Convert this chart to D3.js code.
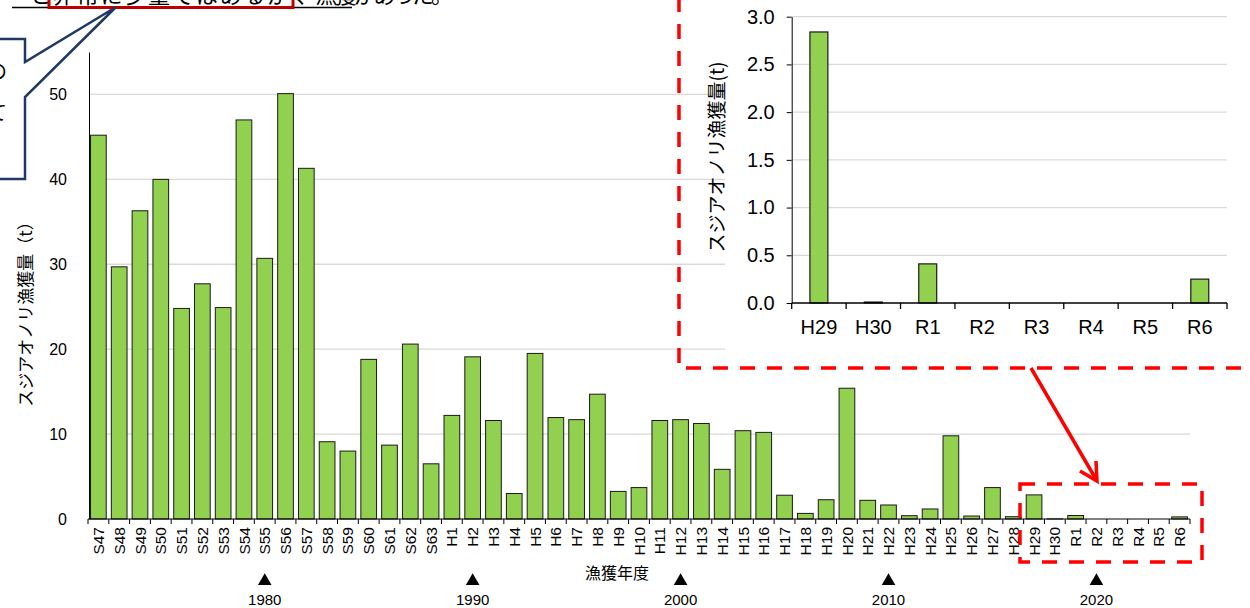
<!DOCTYPE html>
<html>
<head>
<meta charset="utf-8">
<script src="https://cdn.jsdelivr.net/npm/d3@7"></script>
<style>
  body { margin: 0; background: #fff; }
  svg { display: block; }
  .jp { font-family: "Noto Sans CJK JP", sans-serif; }
  .num { font-family: "Liberation Sans", Arial, sans-serif; }
</style>
</head>
<body>
<div id="chart"></div>
<script>
// fishing years (Showa / Heisei / Reiwa)
const years = [
  "S47","S48","S49","S50","S51","S52","S53","S54","S55","S56","S57","S58","S59","S60","S61","S62","S63",
  "H1","H2","H3","H4","H5","H6","H7","H8","H9","H10","H11","H12","H13","H14","H15","H16","H17","H18","H19","H20",
  "H21","H22","H23","H24","H25","H26","H27","H28","H29","H30",
  "R1","R2","R3","R4","R5","R6"
];
// catch in tonnes
const catchT = [
  45.2, 29.7, 36.3, 40.0, 24.8, 27.7, 24.9, 47.0, 30.7, 50.1, 41.3, 9.1, 8.0, 18.8, 8.7, 20.6, 6.5,
  12.2, 19.1, 11.6, 3.0, 19.5, 11.95, 11.7, 14.7, 3.25, 3.7, 11.6, 11.7, 11.25, 5.85, 10.4, 10.2, 2.8, 0.66, 2.27, 15.4,
  2.2, 1.65, 0.39, 1.18, 9.8, 0.35, 3.7, 0.27, 2.84, 0.01,
  0.41, 0, 0, 0, 0, 0.25
];
const mainTicks = [0, 10, 20, 30, 40, 50];

// zoomed part
const insetYears = ["H29","H30","R1","R2","R3","R4","R5","R6"];
const insetCatch = [2.84, 0.01, 0.41, 0, 0, 0, 0, 0.25];
const insetTicks = [0, 0.5, 1.0, 1.5, 2.0, 2.5, 3.0];

// western year markers under the axis
const markerYears = ["1980","1990","2000","2010","2020"];
const markerAt = ["S55","H2","H12","H22","R2"];

const yLabel = "スジアオノリ漁獲量（t）";
const yLabelInset = "スジアオノリ漁獲量(t)";
const xLabel = "漁獲年度";

const width = 1250, height = 608;
const barFill = "#92d050", gridCol = "#d9d9d9";

const svg = d3.select("#chart").append("svg")
  .attr("width", width).attr("height", height);

/* ---------- main chart ---------- */
const x = d3.scaleBand().domain(years).range([88, 1190])
  .paddingInner(0.245).paddingOuter(0.1225);
const y = d3.scaleLinear().domain([0, 55]).range([519, 52]);

svg.append("g").selectAll("line")
  .data(mainTicks.filter(d => d > 0))
  .join("line")
  .attr("x1", 89).attr("x2", 1190)
  .attr("y1", d => y(d)).attr("y2", d => y(d))
  .attr("stroke", gridCol).attr("stroke-width", 1.3);

svg.append("g").selectAll("rect")
  .data(years.map((k, i) => ({ k, v: catchT[i] })).filter(d => d.v > 0))
  .join("rect")
  .attr("x", d => x(d.k))
  .attr("y", d => y(d.v))
  .attr("width", x.bandwidth())
  .attr("height", d => y(0) - y(d.v))
  .attr("fill", barFill)
  .attr("stroke", "#1a1a1a").attr("stroke-width", 1);

// y axis
const yAxis = svg.append("g")
  .attr("transform", "translate(89,0)")
  .call(d3.axisLeft(y).tickValues(mainTicks).tickSize(0).tickPadding(22).tickSizeOuter(0));
yAxis.select(".domain").attr("stroke", "#000");
yAxis.selectAll("text").attr("class", "num").style("font-size", "16px").attr("fill", "#000");

// x axis with rotated labels
const xAxis = svg.append("g")
  .attr("transform", "translate(0,519)")
  .call(d3.axisBottom(x).tickSize(0).tickSizeOuter(0));
xAxis.select(".domain").attr("stroke", "#000").attr("d", "M88,0H1190");
xAxis.selectAll("text")
  .attr("class", "num")
  .style("font-size", "15.5px")
  .attr("fill", "#000")
  .attr("y", 0).attr("dy", "0.36em").attr("x", -8)
  .attr("transform", "rotate(-90)")
  .style("text-anchor", "end");

const bounds = years.map(k => x(k) - x.step() * x.paddingInner() / 2).concat([1190]);
xAxis.append("g").selectAll("line").data(bounds).join("line")
  .attr("x1", d => d).attr("x2", d => d).attr("y1", 0).attr("y2", 5)
  .attr("stroke", "#000");

svg.append("text").attr("class", "jp")
  .attr("transform", "translate(24,310) rotate(-90)")
  .attr("text-anchor", "middle").attr("dominant-baseline", "central")
  .style("font-size", "17px").attr("fill", "#000").text(yLabel);

svg.append("text").attr("class", "jp")
  .attr("x", 617).attr("y", 572)
  .attr("text-anchor", "middle").attr("dominant-baseline", "central")
  .style("font-size", "16px").text(xLabel);

const marks = svg.append("g");
markerYears.forEach((yr, i) => {
  const cx = x(markerAt[i]) + x.bandwidth() / 2;
  marks.append("path")
    .attr("d", d3.symbol(d3.symbolTriangle, 80)())
    .attr("transform", `translate(${cx},581)`)
    .attr("fill", "#000");
  marks.append("text").attr("class", "num")
    .attr("x", cx).attr("y", 605)
    .attr("text-anchor", "middle")
    .style("font-size", "15px").text(yr);
});

// dashed box around the last years + arrow
svg.append("rect")
  .attr("x", 1020).attr("y", 484).attr("width", 182).attr("height", 78)
  .attr("fill", "none").attr("stroke", "#ff0000").attr("stroke-width", 3.5)
  .attr("stroke-dasharray", "15,12");

svg.append("path")
  .attr("d", "M1031,368L1097,481M1080,471L1097,481L1096,461")
  .attr("fill", "none").attr("stroke", "#ff0000").attr("stroke-width", 3.5)
  .attr("stroke-linejoin", "miter");

/* ---------- inset chart ---------- */
svg.append("rect").attr("x", 725).attr("y", 0).attr("width", 525).attr("height", 360)
  .attr("fill", "#fff");

const xi = d3.scaleBand().domain(insetYears).range([791.7, 1227])
  .paddingInner(0.67).paddingOuter(0.335);
const yi = d3.scaleLinear().domain([0, 3]).range([303, 16.7]);

svg.append("g").selectAll("line")
  .data(insetTicks.filter(d => d > 0))
  .join("line")
  .attr("x1", 792).attr("x2", 1227)
  .attr("y1", d => yi(d)).attr("y2", d => yi(d))
  .attr("stroke", gridCol).attr("stroke-width", 1.3);

svg.append("g").selectAll("rect")
  .data(insetYears.map((k, i) => ({ k, v: insetCatch[i] })).filter(d => d.v > 0))
  .join("rect")
  .attr("x", d => xi(d.k))
  .attr("y", d => yi(d.v))
  .attr("width", xi.bandwidth())
  .attr("height", d => yi(0) - yi(d.v))
  .attr("fill", barFill)
  .attr("stroke", "#1a1a1a").attr("stroke-width", 1.2);

const yiAxis = svg.append("g")
  .attr("transform", "translate(791.7,0)")
  .call(d3.axisLeft(yi).tickValues(insetTicks).tickFormat(d3.format(".1f")).tickSize(5).tickPadding(12).tickSizeOuter(0));
yiAxis.select(".domain").attr("stroke", "#000");
yiAxis.selectAll("line").attr("stroke", "#000");
yiAxis.selectAll("text").attr("class", "num").style("font-size", "20px").attr("fill", "#000");

const xiAxis = svg.append("g")
  .attr("transform", "translate(0,303)")
  .call(d3.axisBottom(xi).tickSize(0).tickPadding(17).tickSizeOuter(0));
xiAxis.select(".domain").attr("stroke", "#000").attr("stroke-width", 1.3).attr("d", "M791.7,0H1227");
xiAxis.selectAll("text").attr("class", "num").style("font-size", "20px").attr("fill", "#000");
const ibounds = insetYears.map(k => xi(k) - xi.step() * xi.paddingInner() / 2).concat([1227]);
xiAxis.append("g").selectAll("line").data(ibounds).join("line")
  .attr("x1", d => d).attr("x2", d => d).attr("y1", 0).attr("y2", 6)
  .attr("stroke", "#000").attr("stroke-width", 1.3);

svg.append("text").attr("class", "jp")
  .attr("transform", "translate(715,157) rotate(-90)")
  .attr("text-anchor", "middle").attr("dominant-baseline", "central")
  .style("font-size", "19px").attr("fill", "#000").text(yLabelInset);

svg.append("rect")
  .attr("x", 679).attr("y", -20).attr("width", 600).attr("height", 388)
  .attr("fill", "none").attr("stroke", "#ff0000").attr("stroke-width", 3.5)
  .attr("stroke-dasharray", "15,12");

/* ---------- callout and cut-off note at the top ---------- */
svg.append("text").attr("class", "jp").attr("x", 8).attr("y", 2.5)
  .style("font-size", "22px").text("・と");
svg.append("text").attr("class", "jp").attr("x", 53).attr("y", 2.5)
  .attr("textLength", 236).style("font-size", "22px").text("非常に少量ではあるが");
svg.append("text").attr("class", "jp").attr("x", 296).attr("y", 2.5)
  .attr("textLength", 157).style("font-size", "22px").text("、漁獲があった。");
svg.append("line").attr("x1", 12).attr("x2", 352).attr("y1", 7.5).attr("y2", 7.5)
  .attr("stroke", "#000").attr("stroke-width", 1.5);
svg.append("rect").attr("x", 49).attr("y", -20).attr("width", 244).attr("height", 27.5)
  .attr("fill", "none").attr("stroke", "#c00000").attr("stroke-width", 3);

svg.append("path")
  .attr("d", "M-10,39L25,39L25,62L116,7L25,97L25,179L-10,179Z")
  .attr("fill", "#fff").attr("stroke", "#1f3864").attr("stroke-width", 2.5)
  .attr("stroke-linejoin", "miter");
svg.append("text").attr("class", "jp").attr("x", 7).attr("y", 70)
  .attr("text-anchor", "end").attr("dominant-baseline", "central")
  .style("font-size", "20px").text("の");
svg.append("text").attr("class", "jp").attr("x", 7).attr("y", 111)
  .attr("text-anchor", "end").attr("dominant-baseline", "central")
  .style("font-size", "20px").text("て");
</script>
</body>
</html>
